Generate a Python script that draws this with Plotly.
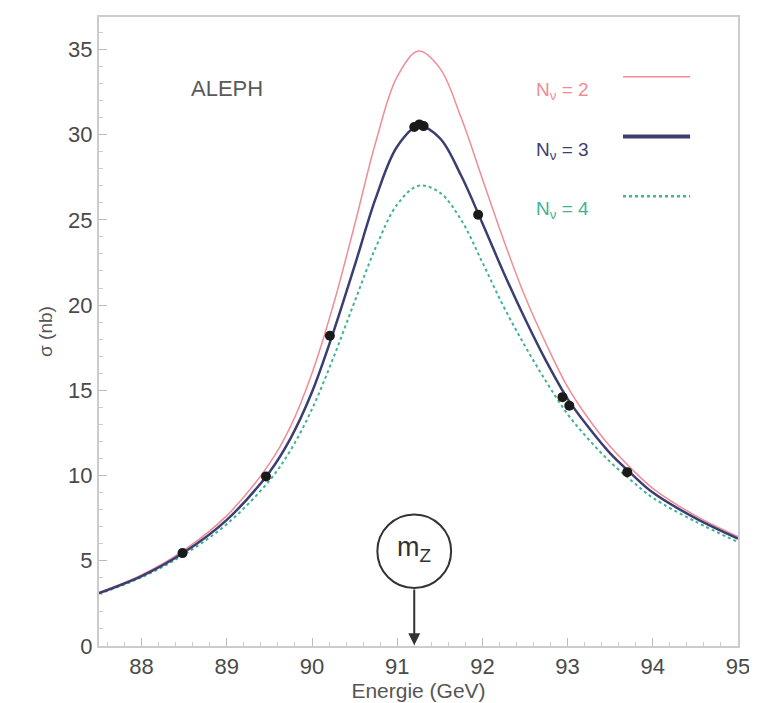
import plotly.graph_objects as go

# ---- data ----
energy = [87.5, 88.0, 88.5, 89.0, 89.5, 89.75, 90.0, 90.25, 90.5, 90.75, 91.0, 91.25,
          91.5, 91.75, 92.0, 92.25, 92.5, 92.75, 93.0, 93.25, 93.5, 93.75, 94.0, 94.5, 95.0]
sigma_n2 = [3.14, 4.17, 5.63, 7.65, 10.7, 12.9, 16.0, 20.0, 24.7, 29.6, 33.4, 34.9,
            33.9, 31.0, 27.4, 23.8, 20.5, 17.7, 15.2, 13.3, 11.7, 10.4, 9.25, 7.65, 6.42]
sigma_n3 = [3.1, 4.1, 5.5, 7.4, 10.2, 12.2, 14.9, 18.4, 22.3, 26.3, 29.3, 30.5,
            29.8, 27.6, 24.8, 21.9, 19.2, 16.7, 14.5, 12.8, 11.3, 10.1, 9.0, 7.5, 6.3]
sigma_n4 = [3.06, 4.03, 5.37, 7.15, 9.7, 11.5, 13.9, 16.9, 20.2, 23.4, 25.9, 27.0,
            26.6, 25.0, 22.5, 19.9, 17.6, 15.5, 13.6, 12.1, 10.8, 9.7, 8.7, 7.3, 6.1]

data_e = [88.48, 89.46, 90.21, 91.2, 91.26, 91.31, 91.95, 92.94, 93.02, 93.70]
data_s = [5.45, 9.95, 18.2, 30.45, 30.6, 30.5, 25.3, 14.6, 14.1, 10.2]

x_ticks = [88, 89, 90, 91, 92, 93, 94, 95]
y_ticks = [0, 5, 10, 15, 20, 25, 30, 35]
legend_labels = ["N<sub>ν</sub> = 2", "N<sub>ν</sub> = 3", "N<sub>ν</sub> = 4"]
m_z = 91.2

c2, c3, c4 = "#f08c96", "#3b3e70", "#3fb395"

fig = go.Figure()
fig.add_trace(go.Scatter(x=energy, y=sigma_n2, mode="lines", line=dict(color=c2, width=1.5, shape="spline"),
                         showlegend=False))
fig.add_trace(go.Scatter(x=energy, y=sigma_n4, mode="lines", line=dict(color=c4, width=2, dash="dot", shape="spline"),
                         showlegend=False))
fig.add_trace(go.Scatter(x=energy, y=sigma_n3, mode="lines", line=dict(color=c3, width=2.5, shape="spline"),
                         showlegend=False))
fig.add_trace(go.Scatter(x=data_e, y=data_s, mode="markers", marker=dict(color="#1a1a1a", size=10),
                         showlegend=False))

font_main = "Liberation Sans, Arial, sans-serif"

# legend drawn as text + line samples (text left, line right)
leg_y = [0.905, 0.81, 0.715]
leg_colors = [c2, c3, c4]
leg_dash = ["solid", "solid", "dot"]
leg_width = [1.5, 4, 2.5]
for lab, yy, col, d, w in zip(legend_labels, leg_y, leg_colors, leg_dash, leg_width):
    fig.add_annotation(xref="x domain", yref="y domain", x=0.68, y=yy, text=lab, showarrow=False,
                       xanchor="left", font=dict(family=font_main, size=19, color=col))
    fig.add_shape(type="line", xref="x domain", yref="y domain", x0=0.82, x1=0.925, y0=yy, y1=yy,
                  line=dict(color=col, width=w, dash=d))

fig.add_annotation(x=89.0, y=32.7, text="ALEPH", showarrow=False,
                   font=dict(family=font_main, size=22, color="#5a5a5a"))

# m_Z marker: circle + arrow
fig.add_shape(type="circle", xref="x", yref="y", x0=m_z - 0.433, x1=m_z + 0.433, y0=3.40, y1=7.72,
              line=dict(color="#333333", width=2))
fig.add_annotation(x=m_z, y=5.7, text="m<sub>Z</sub>", showarrow=False,
                   font=dict(family=font_main, size=27, color="#333333"))
fig.add_annotation(x=m_z, y=0.05, ax=m_z, ay=3.40, axref="x", ayref="y", xref="x", yref="y",
                   text="", showarrow=True, arrowhead=2, arrowsize=1.2, arrowwidth=2, arrowcolor="#333333")

fig.update_xaxes(range=[87.5, 95], tickvals=x_ticks, ticktext=[str(v) for v in x_ticks],
                 ticks="inside", ticklen=8, tickcolor="#bbbbbb", showgrid=False, zeroline=False,
                 showline=True, linecolor="#cccccc", linewidth=2, mirror=True,
                 minor=dict(ticks="inside", ticklen=4, dtick=0.2, tickcolor="#cccccc"),
                 tickfont=dict(family=font_main, size=22, color="#4a4a4a"),
                 title=dict(text="Energie (GeV)", font=dict(family=font_main, size=21, color="#555555"), standoff=4))
fig.update_yaxes(range=[0, 36.9], tickvals=y_ticks, ticktext=[str(v) for v in y_ticks],
                 ticks="inside", ticklen=8, tickcolor="#bbbbbb", showgrid=False, zeroline=False,
                 showline=True, linecolor="#cccccc", linewidth=2, mirror=True,
                 minor=dict(ticks="inside", ticklen=4, dtick=1, tickcolor="#cccccc"),
                 tickfont=dict(family=font_main, size=22, color="#4a4a4a"),
                 title=dict(text="σ (nb)", font=dict(family=font_main, size=19, color="#555555"), standoff=10))

fig.update_layout(width=757, height=703, margin=dict(l=91, r=27, t=7, b=65),
                  plot_bgcolor="white", paper_bgcolor="white")

fig.write_html("out.html")
